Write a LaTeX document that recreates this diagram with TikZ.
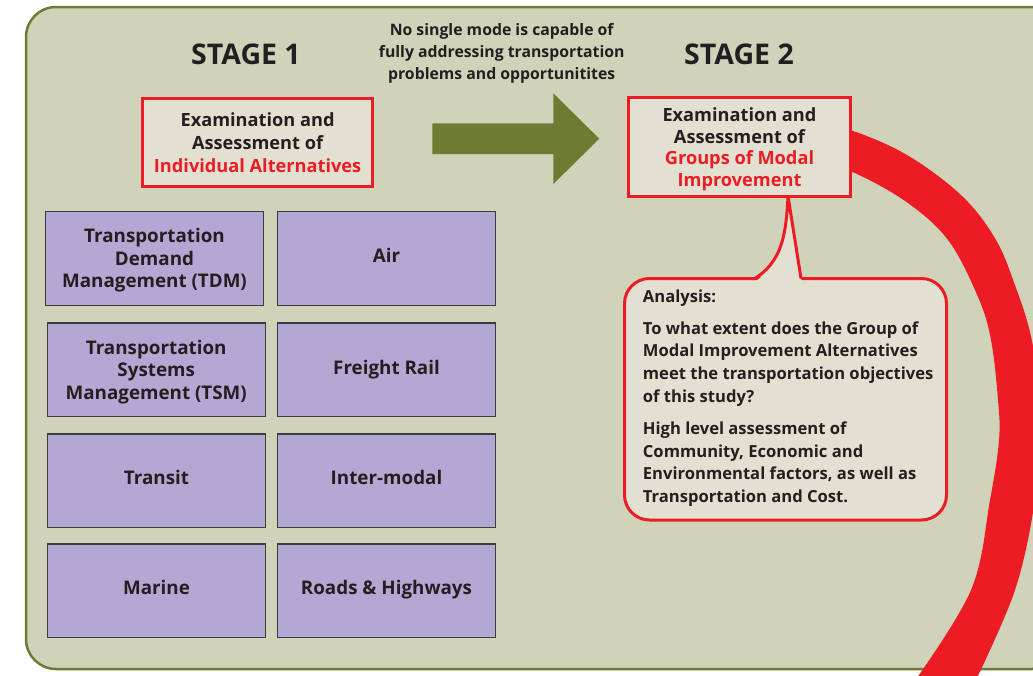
\documentclass[tikz,border=0pt]{standalone}
\usepackage{fontspec}
\setmainfont{Open Sans}
\usetikzlibrary{calc}
\definecolor{bgfill}{HTML}{D0D3BA}
\definecolor{olivec}{HTML}{6E7B33}
\definecolor{redc}{HTML}{ED1C24}
\definecolor{boxfill}{HTML}{E2E0D1}
\definecolor{purp}{HTML}{B3A7D3}
\definecolor{txt}{HTML}{231F20}
\definecolor{pborder}{HTML}{3C3C3C}
\newcommand{\lift}[1]{\rule{0pt}{#1}}
\begin{document}
\begin{tikzpicture}[x=1pt,y=-1pt,
  every node/.style={text=txt},
  modebox/.style={draw=pborder, line width=1.1pt, fill=purp, minimum width=218pt, minimum height=93.5pt,
    align=center, inner sep=0pt, font=\bfseries\fontsize{18.8}{22.5}\selectfont},
  onerow/.style={text depth=6pt},
  exambox/.style={draw=redc, line width=3pt, fill=boxfill, align=center, inner sep=0pt,
    font=\bfseries\fontsize{18.2}{23}\selectfont},
  stagelabel/.style={font=\bfseries\fontsize{28.5}{34}\selectfont},
  notetext/.style={font=\bfseries\fontsize{15.8}{21.7}\selectfont, align=center},
  calltext/.style={font=\bfseries\fontsize{16.6}{22.7}\selectfont, align=left, inner sep=0pt, anchor=north west},
]
\useasboundingbox (0,0) rectangle (1033,675);
\begin{scope}
\clip (0,0) rectangle (1033,675);
% background panel
\draw[fill=bgfill, draw=olivec, line width=2.5pt, rounded corners=30pt] (26,7) rectangle (1062,669);
% red arc band
\fill[redc] plot[smooth, tension=0.6] coordinates {(820,127) (850,130) (907,155) (962,196) (996,240) (1016,288) (1030,332) (1038,380) (1040,430) (1035,500) (1015,590) (975,682)}
  -- plot[smooth, tension=0.6] coordinates {(914,682) (971,590) (990,500) (999,440) (998,400) (991,340) (978,297) (948,240) (905,201) (850,171) (820,166)} -- cycle;
\end{scope}

% stage labels and note
\node[stagelabel] (st1) at (246,54) {STAGE 1};
\node[stagelabel] (st2) at (739,54) {STAGE 2};
\node[notetext] (note) at (501.7,53.3) {No single mode is capable of\\fully addressing transportation\\problems and opportunitites};

% big arrow
\fill[olivec] (432.3,123.3) -- (553.3,123.3) -- (553.3,93.3) -- (599.3,138.7) -- (553.3,184) -- (553.3,154) -- (432.3,154) -- cycle;

% stage 1 box
\node[exambox, minimum width=230.3pt, minimum height=88pt] (s1) at (257.6,142.2)
  {Examination and\\Assessment of\\\textcolor{redc}{Individual Alternatives}};

% callout
\draw[draw=redc, line width=3pt, fill=boxfill, rounded corners=25pt] (624.5,278.5) rectangle (946.5,520);
\coordinate (apex) at (788,196);
\fill[boxfill] (756,281) .. controls (780,264) and (786,240) .. (apex) -- (801.5,281) -- cycle;
\draw[draw=redc, line width=3pt] (755,278.5) .. controls (780,262) and (786,240) .. (apex) -- (801,278.5);

% stage 2 box
\node[exambox, minimum width=221.4pt, minimum height=99.3pt, font=\bfseries\fontsize{18.2}{21.7}\selectfont] (s2) at (739.5,147.2)
  {\lift{18pt}Examination and\\Assessment of\\\textcolor{redc}{Groups of Modal}\\\textcolor{redc}{Improvement}};

% callout text
\node[calltext] (an) at (642.7,289.4) {Analysis:};
\node[calltext] (q) at (642.7,321.1) {To what extent does the Group of\\Modal Improvement Alternatives\\meet the transportation objectives\\of this study?};
\node[calltext] (hl) at (642.7,421.4) {High level assessment of\\Community, Economic and\\Environmental factors, as well as\\Transportation and Cost.};

% mode boxes
\node[modebox, minimum width=217.6pt] (tdm) at (154.5,258.3) {\lift{18.4pt}Transportation\\Demand\\Management (TDM)};
\node[modebox, onerow] (air) at (386.5,258.3) {Air};
\node[modebox] (tsm) at (156.2,369.7) {\lift{18.4pt}Transportation\\Systems\\Management (TSM)};
\node[modebox, text depth=5.5pt] (rail) at (386.5,369.7) {Freight Rail};
\node[modebox, onerow] (transit) at (156.5,480.7) {Transit};
\node[modebox, onerow] (inter) at (386.5,480.7) {Inter-modal};
\node[modebox, onerow] (marine) at (156.5,590.7) {Marine};
\node[modebox, onerow] (roads) at (386.5,590.7) {Roads \& Highways};
\end{tikzpicture}
\end{document}
